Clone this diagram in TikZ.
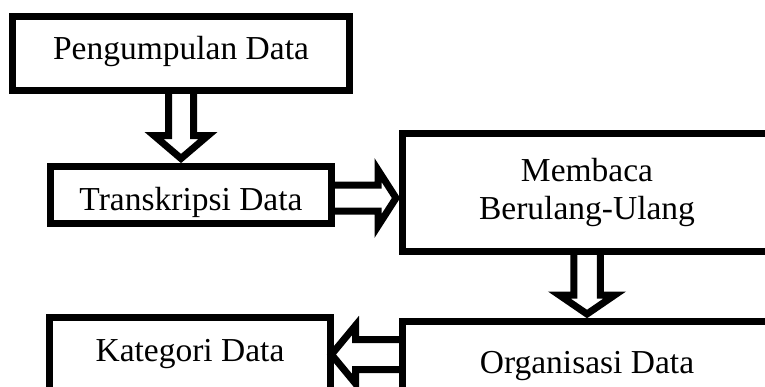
\documentclass[tikz,border=0pt]{standalone}
\usepackage{fontspec}
\setmainfont{Liberation Serif}
\begin{document}
\begin{tikzpicture}[x=1pt,y=-1pt,
  boxnode/.style={draw=black, line width=7pt, outer sep=0pt, inner sep=0pt,
    font=\fontsize{33.5}{38}\selectfont, align=center},
  blk/.style={draw=black, line width=7pt, line join=miter}]
\clip (0,0) rectangle (765,386);
\node[boxnode, minimum width=337, minimum height=74, text height=22, text depth=11] (p) at (181,53.5) {Pengumpulan Data};
\node[boxnode, minimum width=281, minimum height=57, text height=34, text depth=4] (t) at (191,195) {Transkripsi Data};
\node[boxnode, minimum width=369, minimum height=118] (m) at (587,192.5) {\raisebox{-4pt}{Membaca}\\\raisebox{-4pt}{Berulang-Ulang}};
\node[boxnode, minimum width=281, minimum height=74, text height=22, text depth=9] (k) at (190,354.5) {Kategori Data};
\node[boxnode, minimum width=369, minimum height=85, text height=22, text depth=4] (o) at (587,364) {Organisasi Data};
% p -> t
\draw[blk] ([xshift=-12.5pt]p.south) -- ++(0,45) -- ++(-14.5,0) -- ++(27,23) -- ++(27,-23) -- ++(-14.5,0) -- ++(0,-45);
% t -> m
\draw[blk] ([yshift=10pt]t.east) -- ++(46.5,0) -- ++(0,-15) -- ++(18,28) -- ++(-18,28) -- ++(0,-15) -- ++(-46.5,0);
% m -> o
\draw[blk] ([xshift=-13.25pt]m.south) -- ++(0,43.5) -- ++(-14.5,0) -- ++(27.75,19) -- ++(27.75,-19) -- ++(-14.5,0) -- ++(0,-43.5);
% o -> k
\draw[blk] ([yshift=24.5pt]o.west) -- ++(-47,0) -- ++(0,-14) -- ++(-24,29) -- ++(24,29) -- ++(0,-14) -- ++(47,0);
\end{tikzpicture}
\end{document}
